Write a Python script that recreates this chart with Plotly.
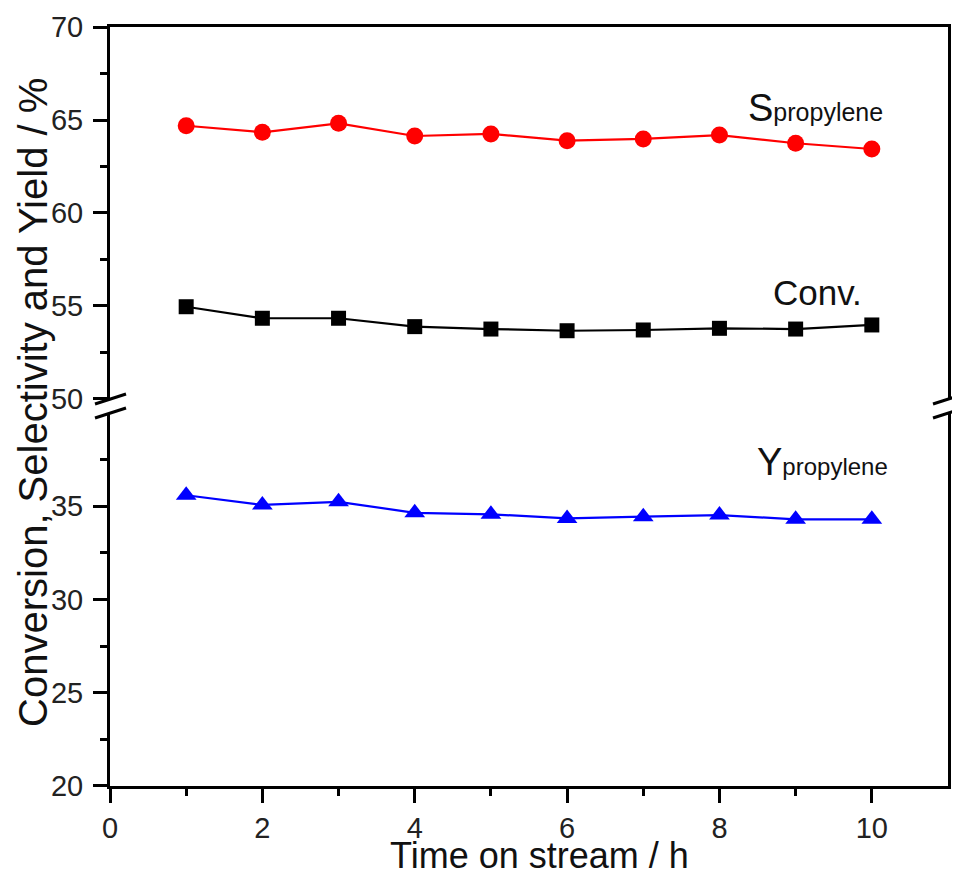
import plotly.graph_objects as go

# ---- data ----
hours = [1, 2, 3, 4, 5, 6, 7, 8, 9, 10]
conversion = [54.96, 54.34, 54.34, 53.89, 53.76, 53.67, 53.71, 53.80, 53.76, 53.98]
selectivity = [64.69, 64.34, 64.82, 64.14, 64.25, 63.89, 63.98, 64.19, 63.75, 63.44]
yield_prop = [35.59, 35.07, 35.24, 34.65, 34.57, 34.35, 34.44, 34.53, 34.30, 34.30]

x_ticks = [0, 2, 4, 6, 8, 10]
x_minor = [1, 3, 5, 7, 9]
low_ticks = [20, 25, 30, 35]
low_minor = [22.5, 27.5, 32.5, 37.5]
up_ticks = [50, 55, 60, 65, 70]
up_minor = [52.5, 57.5, 62.5, 67.5]

FONT = "Liberation Sans, Arial, sans-serif"
D1 = 0.4914   # top of lower segment
D2 = 0.5099   # bottom of upper segment

fig = go.Figure()
fig.add_trace(go.Scatter(x=hours, y=selectivity, mode="lines+markers", xaxis="x2", yaxis="y2",
                         line=dict(color="#ff0000", width=2.2),
                         marker=dict(symbol="circle", size=17, color="#ff0000"), showlegend=False))
fig.add_trace(go.Scatter(x=hours, y=conversion, mode="lines+markers", xaxis="x2", yaxis="y2",
                         line=dict(color="#000000", width=2.2),
                         marker=dict(symbol="square", size=15, color="#000000"), showlegend=False))
fig.add_trace(go.Scatter(x=hours, y=yield_prop, mode="lines+markers", xaxis="x", yaxis="y",
                         line=dict(color="#0000ff", width=2.2),
                         marker=dict(symbol="triangle-up", size=18, color="#0000ff"), showlegend=False))

tickfont = dict(family=FONT, size=29, color="#222222")
common_y = dict(showline=True, linewidth=3, linecolor="black", mirror=True,
                ticks="outside", ticklen=14, tickwidth=3, tickcolor="black",
                showgrid=False, zeroline=False, tickfont=tickfont, automargin=False,
                ticklabelstandoff=4)

# page body has an 8px default margin, so the figure is 8px smaller each way
fig.update_layout(
    width=952, height=864,
    margin=dict(l=102, r=12, t=19, b=86, autoexpand=False),
    paper_bgcolor="white", plot_bgcolor="white",
    xaxis=dict(domain=[0, 1], anchor="y", range=[0, 11], tickmode="array", tickvals=x_ticks,
               showline=True, linewidth=3, linecolor="black", ticks="outside", ticklen=14,
               tickwidth=3, tickcolor="black", showgrid=False, zeroline=False, tickfont=tickfont,
               automargin=False,
               minor=dict(tickmode="array", tickvals=x_minor, ticks="outside", ticklen=7,
                          tickwidth=3, tickcolor="black", showgrid=False)),
    xaxis2=dict(domain=[0, 1], anchor="y2", matches="x", side="top", showline=True, linewidth=3,
                linecolor="black", showticklabels=False, ticks="", showgrid=False, zeroline=False,
                automargin=False),
    yaxis=dict(domain=[0, D1], anchor="x", range=[20, 40], tickmode="array", tickvals=low_ticks,
               minor=dict(tickmode="array", tickvals=low_minor, ticks="outside", ticklen=7,
                          tickwidth=3, tickcolor="black", showgrid=False),
               **common_y),
    yaxis2=dict(domain=[D2, 1], anchor="x2", range=[50, 70], tickmode="array", tickvals=up_ticks,
                minor=dict(tickmode="array", tickvals=up_minor, ticks="outside", ticklen=7,
                           tickwidth=3, tickcolor="black", showgrid=False),
                **common_y),
)

# axis break marks
for xa in (0, 1):
    for ya in (D1, D2):
        fig.add_shape(type="line", xref="paper", yref="paper",
                      xsizemode="pixel", xanchor=xa, x0=-15, x1=16,
                      ysizemode="pixel", yanchor=ya, y0=-5, y1=5,
                      line=dict(color="black", width=3))

# axis titles
fig.add_annotation(xref="paper", yref="paper", x=0.513, y=-0.092, showarrow=False,
                   text="Time on stream / h", font=dict(family=FONT, size=36, color="#111111"),
                   xanchor="center", yanchor="middle")
fig.add_annotation(xref="paper", yref="paper", x=-0.0919, y=0.506, showarrow=False, textangle=-90,
                   text="Conversion, Selectivity and Yield / %",
                   font=dict(family=FONT, size=40, color="#111111"),
                   xanchor="center", yanchor="middle")

# series labels
fig.add_annotation(xref="x2", yref="y2", x=8.35, y=65.62, showarrow=False, xanchor="left", yanchor="middle",
                   text="S<span style='font-size:25px'>propylene</span>",
                   font=dict(family=FONT, size=38, color="#111111"))
fig.add_annotation(xref="x2", yref="y2", x=8.68, y=55.73, showarrow=False, xanchor="left", yanchor="middle",
                   text="Conv.", font=dict(family=FONT, size=35, color="#111111"))
fig.add_annotation(xref="x", yref="y", x=8.47, y=37.37, showarrow=False, xanchor="left", yanchor="middle",
                   text="Y<span style='font-size:24px'>propylene</span>",
                   font=dict(family=FONT, size=38, color="#111111"))

fig.write_html("out.html")
